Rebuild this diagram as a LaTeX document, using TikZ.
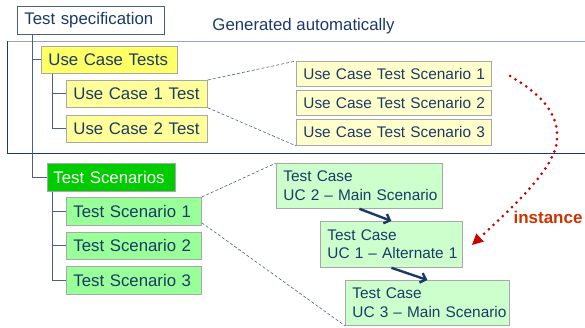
\documentclass[tikz,border=0pt]{standalone}
\usepackage{fontspec}
\setmainfont{Liberation Sans}
\usetikzlibrary{arrows.meta}
\definecolor{navy}{HTML}{1B3A66}
\definecolor{treeline}{HTML}{4A6088}
\definecolor{boxline}{HTML}{A8A8A8}
\definecolor{ylwA}{HTML}{FFFF66}
\definecolor{ylwB}{HTML}{FFFF99}
\definecolor{ylwC}{HTML}{FFFFCC}
\definecolor{grnA}{HTML}{00CC00}
\definecolor{grnB}{HTML}{99FF99}
\definecolor{grnC}{HTML}{CCFFCC}
\definecolor{dotred}{HTML}{CC0000}
\definecolor{instred}{HTML}{CC3300}
\definecolor{framegray}{HTML}{98A4B4}
\begin{document}
\begin{tikzpicture}[x=1pt,y=-1pt,
  bigtxt/.style={font=\fontsize{16.8}{18}\selectfont},
  smalltxt/.style={font=\fontsize{15.4}{18.5}\selectfont},
  tbox/.style={rectangle,anchor=north west,draw=boxline,line width=0.8pt,
    text=navy,align=left,inner xsep=7pt,inner ysep=0pt},
  tree/.style={draw=treeline,line width=0.9pt},
  link/.style={draw=treeline,line width=0.6pt,dash pattern=on 3pt off 2pt},
  flow/.style={draw=navy,line width=2.4pt,-{Straight Barb[length=5pt,width=10pt]}},
  inst/.style={draw=dotred,line width=3pt,line cap=round,dash pattern=on 0pt off 6.4pt,
    -{Triangle[length=11pt,width=11pt,fill=dotred,line width=0pt]}}]
\useasboundingbox (0,0) rectangle (585,327);

% frame of the generated part
\draw[framegray,line width=1pt] (590,41) -- (7,41);
\draw[navy,line width=0.9pt] (7,41) -- (7,153) -- (590,153);

\node[bigtxt,text=navy] (gen) at (303.5,26) {Generated automatically};

% tree of the specification
\node[tbox,bigtxt,draw=treeline,fill=white,text width=133pt,minimum height=28pt] (spec) at (17,6) {\mbox{Test specification}};
\node[tbox,bigtxt,fill=ylwA,text width=122pt,minimum height=27pt] (uct) at (41,46) {\mbox{Use Case Tests}};
\node[tbox,bigtxt,fill=ylwB,text width=127pt,minimum height=27pt] (uc1) at (66,80) {\mbox{Use Case 1 Test}};
\node[tbox,bigtxt,fill=ylwB,text width=127pt,minimum height=27pt] (uc2) at (66,115) {\mbox{Use Case 2 Test}};

\node[tbox,smalltxt,fill=ylwC,text width=181pt,minimum height=25pt] (ucs1) at (296,61) {\mbox{Use Case Test Scenario 1}};
\node[tbox,smalltxt,fill=ylwC,text width=181pt,minimum height=25pt] (ucs2) at (296,90) {\mbox{Use Case Test Scenario 2}};
\node[tbox,smalltxt,fill=ylwC,text width=181pt,minimum height=26pt] (ucs3) at (296,119) {\mbox{Use Case Test Scenario 3}};

\node[tbox,bigtxt,fill=grnA,text=white,inner xsep=6pt,text width=116pt,minimum height=28pt] (ts) at (47,163) {\mbox{Test Scenarios}};
\node[tbox,bigtxt,fill=grnB,text width=121pt,minimum height=28pt] (ts1) at (66,197) {\mbox{Test Scenario 1}};
\node[tbox,bigtxt,fill=grnB,text width=121pt,minimum height=27pt] (ts2) at (66,232) {\mbox{Test Scenario 2}};
\node[tbox,bigtxt,fill=grnB,text width=121pt,minimum height=28pt] (ts3) at (66,266) {\mbox{Test Scenario 3}};

\node[tbox,smalltxt,fill=grnC,text width=152pt,minimum height=45pt] (tc1) at (276,163) {\mbox{Test Case}\\\mbox{UC 2 -- Main Scenario}};
\node[tbox,smalltxt,fill=grnC,text width=128pt,minimum height=46pt] (tc2) at (320,221) {\mbox{Test Case}\\\mbox{UC 1 -- Alternate 1}};
\node[tbox,smalltxt,fill=grnC,text width=150pt,minimum height=45pt] (tc3) at (345,280) {\mbox{Test Case}\\\mbox{UC 3 -- Main Scenario}};

% branches
\draw[tree] ([xshift=15pt]spec.south west) |- (uct.west);
\draw[tree] ([xshift=15pt]spec.south west) |- (ts.west);
\draw[tree] ([xshift=11pt]uct.south west) |- (uc1.west);
\draw[tree] ([xshift=11pt]uct.south west) |- (uc2.west);
\draw[tree] ([xshift=5pt]ts.south west) |- (ts1.west);
\draw[tree] ([xshift=5pt]ts.south west) |- (ts2.west);
\draw[tree] ([xshift=5pt]ts.south west) |- (ts3.west);

% expansions
\draw[link] (uc1.north east) -- (ucs1.north west);
\draw[link] (uc1.south east) -- (ucs3.south west);
\draw[link] (ts1.north east) -- (tc1.north west);
\draw[link] ([yshift=3pt]ts1.south east) -- (tc3.south west);

% sequence of test cases
\draw[flow] (tc1.south) -- (tc2.north);
\draw[flow] (tc2.south) -- (tc3.north);

% instance relation
\coordinate (istart) at (510,76);
\coordinate (ibend) at (557,140);
\coordinate (iend) at (472,245);
\draw[inst] (istart) .. controls (543,95) and (559,115) .. (ibend)
  .. controls (555,168) and (515,205) .. (iend);
\node[font=\fontsize{17}{18}\selectfont\bfseries,text=instred] (inst) at (548,217) {instance};
\end{tikzpicture}
\end{document}
